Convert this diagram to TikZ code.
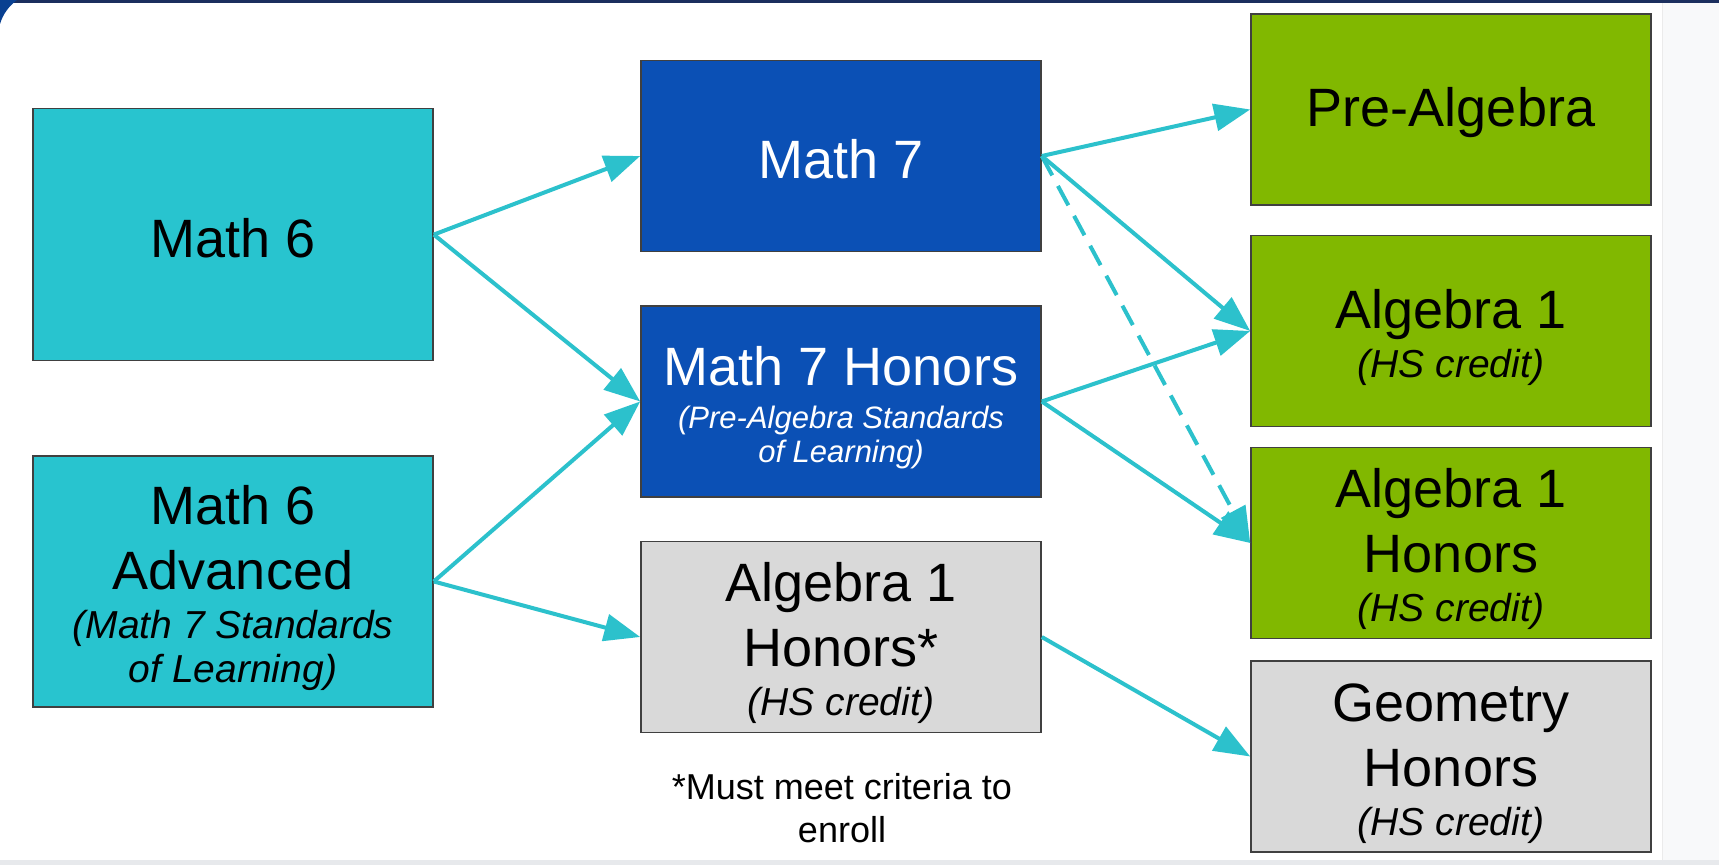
\documentclass[tikz,border=0pt]{standalone}
\usepackage{fontspec}
\setmainfont{Liberation Sans}
\usetikzlibrary{arrows.meta}
\definecolor{tealbox}{RGB}{40,196,207}
\definecolor{bluebox}{RGB}{11,80,181}
\definecolor{greenbox}{RGB}{129,184,0}
\definecolor{greybox}{RGB}{217,217,217}
\definecolor{arrcol}{RGB}{44,193,204}
\definecolor{topband}{RGB}{27,47,94}
\definecolor{panel}{RGB}{248,249,250}
\definecolor{strip}{RGB}{231,233,236}
\def\fA{\fontsize{27}{32.5}\selectfont}
\def\fB{\fontsize{19.5}{21.5}\selectfont\itshape}
\def\fC{\fontsize{15.5}{17}\selectfont\itshape}
\def\fD{\fontsize{18}{21.4}\selectfont}
\def\hA{\rule{0pt}{23pt}}% mot dong
\def\hB{\rule{0pt}{26pt}}% nhieu dong
\begin{document}
\begin{tikzpicture}[x=0.5pt,y=-0.5pt,
	box/.style={draw=black!75,line width=0.8pt,minimum width=200pt,minimum height=95.5pt,inner sep=0pt,align=center,font=\fA},
	arr/.style={draw=arrcol,line width=2pt,-{Triangle[length=18pt,width=13.5pt]}}]
	\useasboundingbox (0,0) rectangle (1719,865);
	% nen
	\fill[white] (0,0) rectangle (1719,865);
	\fill[panel] (1662,0) rectangle (1719,860);
	\draw[black!8] (1662,0) -- (1662,860);
	\fill[strip] (0,860) rectangle (1719,865);
	\fill[topband] (0,0) rectangle (1719,3);
	\fill[bluebox!80!black] (0,0) -- (17,0) .. controls (9,6) and (3,14) .. (0,24) -- cycle;
	% cot trai
	\node[box,fill=tealbox,minimum height=126pt] (m6) at (233,234.6) {\hA Math 6};
	\node[box,fill=tealbox,minimum height=125.5pt] (m6a) at (233,581.5) {\hB Math 6\\Advanced\\[-8pt]\fB (Math 7 Standards\\[-10.5pt]\fB of Learning)};
	% cot giua
	\node[box,fill=bluebox,text=white] (m7) at (841,156) {\hA Math 7};
	\node[box,fill=bluebox,text=white] (m7h) at (841,401.5) {\hB Math 7 Honors\\[-11pt]\fC (Pre-Algebra Standards\\[-15.5pt]\fC of Learning)};
	\node[box,fill=greybox] (a1s) at (841,637) {\hB Algebra 1\\Honors*\\[-8pt]\fB (HS credit)};
	\node[font=\fD,align=center,inner sep=0pt,anchor=north] (note) at (842,773) {*Must meet criteria to\\enroll};
	% cot phai
	\node[box,fill=greenbox] (pa) at (1451,109.5) {\hA Pre-Algebra};
	\node[box,fill=greenbox] (a1) at (1451,331) {\hB Algebra 1\\[-8pt]\fB (HS credit)};
	\node[box,fill=greenbox] (a1h) at (1451,543) {\hB Algebra 1\\Honors\\[-8pt]\fB (HS credit)};
	\node[box,fill=greybox] (geo) at (1451,756.5) {\hB Geometry\\Honors\\[-8pt]\fB (HS credit)};
	% mui ten
	\draw[arr] (m6.east) -- (m7.west);
	\draw[arr] (m6.east) -- (m7h.west);
	\draw[arr] (m6a.east) -- (m7h.west);
	\draw[arr] (m6a.east) -- (a1s.west);
	\draw[arr] (m7.east) -- (pa.west);
	\draw[arr] (m7.east) -- (a1.west);
	\draw[arr,dash pattern=on 11pt off 6pt] (m7.east) -- (a1h.west);
	\draw[arr] (m7h.east) -- (a1.west);
	\draw[arr] (m7h.east) -- (a1h.west);
	\draw[arr] (a1s.east) -- (geo.west);
\end{tikzpicture}
\end{document}
